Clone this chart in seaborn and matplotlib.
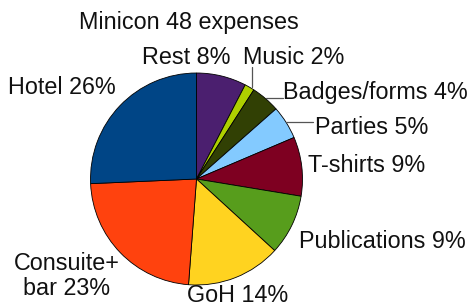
import numpy as np
import seaborn as sns
import matplotlib
matplotlib.use("Agg")
import matplotlib.pyplot as plt

# slice data, clockwise from 12 o'clock
categories = ["Rest", "Music", "Badges/forms", "Parties", "T-shirts",
              "Publications", "GoH", "Consuite+\nbar", "Hotel"]
shares = [7.6, 1.5, 4.4, 5.1, 9.0, 9.2, 14.4, 23.1, 25.7]
pct_labels = ["8%", "2%", "4%", "5%", "9%", "9%", "14%", "23%", "26%"]
colors = ["#4b1f6f", "#aecf00", "#314004", "#83caff", "#7e0021",
          "#579d1c", "#ffd320", "#ff420e", "#004586"]

sns.set_style("white")
plt.rcParams["font.family"] = ["Liberation Sans", "DejaVu Sans"]

W, H = 470, 306
fig = plt.figure(figsize=(W / 100, H / 100), dpi=100)
ax = fig.add_axes([0, 0, 1, 1])

cx, cy, r = 196.5, H - 179, 106
wedges, _ = ax.pie(shares, colors=colors, startangle=90, counterclock=False,
                   center=(cx, cy), radius=r,
                   wedgeprops=dict(edgecolor="black", linewidth=0.6))
ax.set_xlim(0, W)
ax.set_ylim(0, H)
ax.set_aspect("equal")
ax.axis("off")

# label anchors in pixel coords (left x, middle y), plus leader line end
label_pos = {
    "Rest": (142, 57, None),
    "Music": (243, 57, (252, 67)),
    "Badges/forms": (283, 93, (283, 98)),
    "Parties": (315, 128, (313, 122)),
    "T-shirts": (308, 165, None),
    "Publications": (299, 242, None),
    "GoH": (187, 295, None),
    "Hotel": (8, 87, None),
}
fs = 16.8
tc = "#111111"

for w, name, pct in zip(wedges, categories, pct_labels):
    text = f"{name} {pct}"
    if name.startswith("Consuite"):
        ax.text(67, H - 276, text, ha="center", va="center", fontsize=fs,
                linespacing=1.1, color=tc)
        continue
    x, y, leader = label_pos[name]
    ax.text(x, H - y, text, ha="left", va="center", fontsize=fs, color=tc)
    if leader is not None:
        mid = np.deg2rad((w.theta1 + w.theta2) / 2)
        ex, ey = cx + r * np.cos(mid), cy + r * np.sin(mid)
        lx, ly = leader
        if name == "Music":
            ax.plot([lx, lx], [ey, H - ly], color="#555555", lw=0.9)
        else:
            ax.plot([ex, lx], [H - ly, H - ly], color="#555555", lw=0.9)

ax.text(189, H - 22, "Minicon 48 expenses", ha="center", va="center",
        fontsize=fs, color=tc)

fig.savefig("out.png", dpi=100)
